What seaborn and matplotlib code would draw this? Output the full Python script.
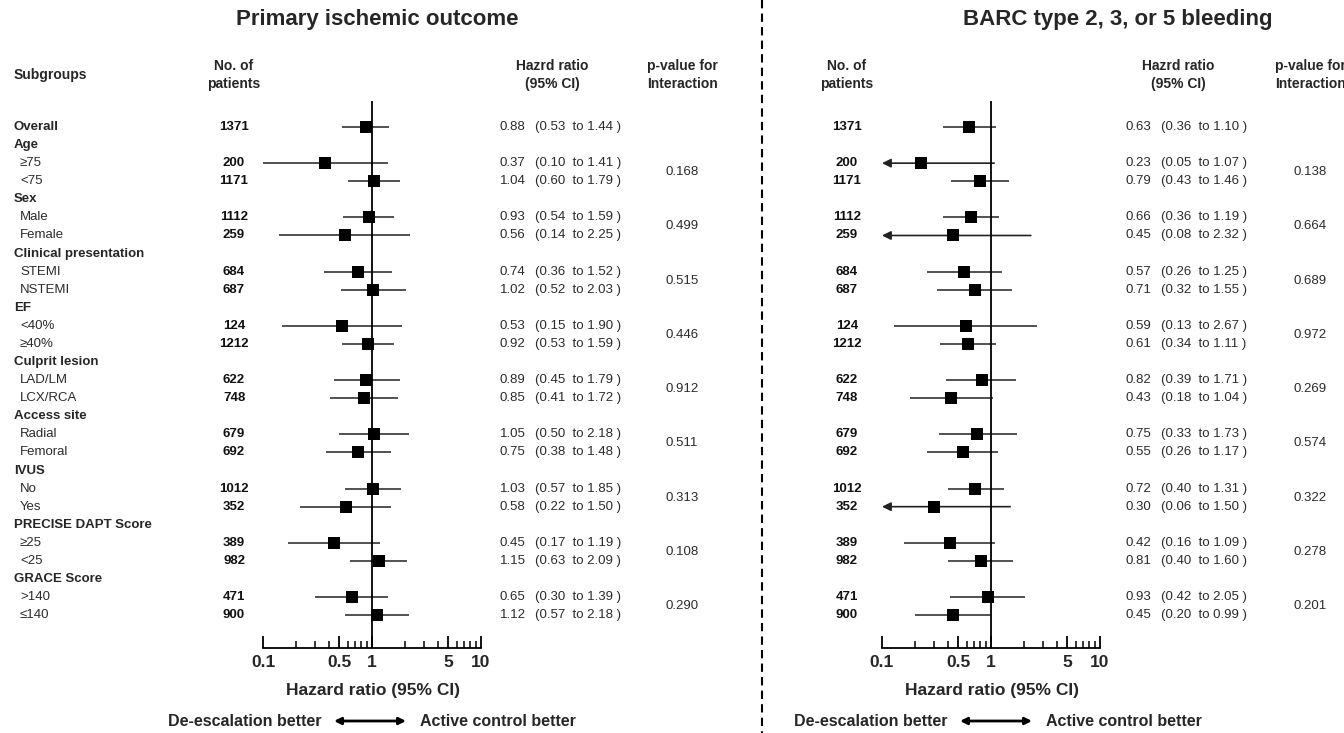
import matplotlib
matplotlib.use("Agg")
import matplotlib.pyplot as plt
import seaborn as sns
import pandas as pd
from matplotlib.ticker import NullFormatter

# -----------------------------
# Data
# -----------------------------
groups = ["Age", "Sex", "Clinical presentation", "EF", "Culprit lesion",
          "Access site", "IVUS", "PRECISE DAPT Score", "GRACE Score"]
levels = [["≥75", "<75"], ["Male", "Female"], ["STEMI", "NSTEMI"],
          ["<40%", "≥40%"], ["LAD/LM", "LCX/RCA"], ["Radial", "Femoral"],
          ["No", "Yes"], ["≥25", "<25"], [">140", "≤140"]]

# Overall first, then two levels per group
n_patients = [1371, 200, 1171, 1112, 259, 684, 687, 124, 1212, 622, 748,
              679, 692, 1012, 352, 389, 982, 471, 900]

isch_hr = [0.88, 0.37, 1.04, 0.93, 0.56, 0.74, 1.02, 0.53, 0.92, 0.89, 0.85,
           1.05, 0.75, 1.03, 0.58, 0.45, 1.15, 0.65, 1.12]
isch_lo = [0.53, 0.10, 0.60, 0.54, 0.14, 0.36, 0.52, 0.15, 0.53, 0.45, 0.41,
           0.50, 0.38, 0.57, 0.22, 0.17, 0.63, 0.30, 0.57]
isch_hi = [1.44, 1.41, 1.79, 1.59, 2.25, 1.52, 2.03, 1.90, 1.59, 1.79, 1.72,
           2.18, 1.48, 1.85, 1.50, 1.19, 2.09, 1.39, 2.18]
isch_p = [0.168, 0.499, 0.515, 0.446, 0.912, 0.511, 0.313, 0.108, 0.290]

bleed_hr = [0.63, 0.23, 0.79, 0.66, 0.45, 0.57, 0.71, 0.59, 0.61, 0.82, 0.43,
            0.75, 0.55, 0.72, 0.30, 0.42, 0.81, 0.93, 0.45]
bleed_lo = [0.36, 0.05, 0.43, 0.36, 0.08, 0.26, 0.32, 0.13, 0.34, 0.39, 0.18,
            0.33, 0.26, 0.40, 0.06, 0.16, 0.40, 0.42, 0.20]
bleed_hi = [1.10, 1.07, 1.46, 1.19, 2.32, 1.25, 1.55, 2.67, 1.11, 1.71, 1.04,
            1.73, 1.17, 1.31, 1.50, 1.09, 1.60, 2.05, 0.99]
bleed_p = [0.138, 0.664, 0.689, 0.972, 0.269, 0.574, 0.322, 0.278, 0.201]

# -----------------------------
# Layout helpers (pixel space of a 1344x733 figure)
# -----------------------------
W, H = 1344, 733
ROW0, ROWH = 127, 18.08
AX_TOP, AX_BOT = 101, 648

# row index of every data row (Overall = 0, group headers in between)
data_rows = [0] + [r for g in range(len(groups)) for r in (2 + 3 * g, 3 + 3 * g)]


def row_y(i):
    return ROW0 + i * ROWH


sns.set_style("white")
plt.rcParams['font.family'] = ['Liberation Sans', 'DejaVu Sans']

fig = plt.figure(figsize=(W / 100, H / 100), dpi=100)
bg = fig.add_axes([0, 0, 1, 1])
bg.set_xlim(0, W)
bg.set_ylim(H, 0)
bg.axis('off')

TXT = "#2b2b2b"
FS = 9.5
HFS = 10


def forest(x01, hr, lo, hi):
    # axes mapping 0.1 -> x01, 10 -> x01 + 218 px
    ax = fig.add_axes([x01 / W, 1 - AX_BOT / H, 218 / W, (AX_BOT - AX_TOP) / H])
    df = pd.DataFrame({"hr": hr, "lo": lo, "hi": hi, "row": data_rows})
    for _, r in df.iterrows():
        if r["lo"] < 0.1:
            ax.annotate("", xy=(0.1, r["row"]), xytext=(r["hi"], r["row"]),
                        arrowprops=dict(arrowstyle="-|>", color="#222222", lw=1.2,
                                        mutation_scale=13, shrinkA=0, shrinkB=0))
        else:
            ax.hlines(r["row"], r["lo"], r["hi"], color="#333333", lw=1.2)
    sns.scatterplot(data=df, x="hr", y="row", marker="s", s=75, color="black",
                    edgecolor="none", ax=ax, zorder=5)
    ax.axvline(1, color="black", lw=1.3, zorder=4)
    ax.set_xscale("log")
    ax.set_xlim(0.1, 10)
    ax.set_ylim((AX_BOT - ROW0) / ROWH, (AX_TOP - ROW0) / ROWH)
    ax.set_xticks([0.1, 0.5, 1, 5, 10], labels=["0.1", "0.5", "1", "5", "10"])
    ax.set_xticks([0.2, 0.3, 0.4, 0.6, 0.7, 0.8, 0.9, 2, 3, 4, 6, 7, 8, 9], minor=True)
    ax.xaxis.set_minor_formatter(NullFormatter())
    ax.tick_params(axis="x", which="major", bottom=True, direction="in", length=9,
                   width=1.3, labelsize=12.5, pad=5, color="black")
    ax.tick_params(axis="x", which="minor", bottom=True, direction="in", length=5,
                   width=1.1, color="black")
    for lab in ax.get_xticklabels():
        lab.set_fontweight("bold")
    ax.set_yticks([])
    ax.set_xlabel("")
    ax.set_ylabel("")
    for s in ["top", "left", "right"]:
        ax.spines[s].set_visible(False)
    ax.spines["bottom"].set_linewidth(1.3)
    ax.spines["bottom"].set_color("black")
    ax.patch.set_alpha(0)
    return ax


def panel(title, title_x, ax_x, n_x, hr_x, p_x, hr, lo, hi, pv, arrow_x):
    bg.text(title_x, 20, title, fontsize=16, fontweight="bold", ha="center", va="center")
    bg.text(n_x, 75, "No. of\npatients", fontsize=HFS, fontweight="bold", ha="center",
            va="center", linespacing=1.3)
    bg.text(hr_x + 52, 75, "Hazrd ratio\n(95% CI)", fontsize=HFS, fontweight="bold",
            ha="center", va="center", linespacing=1.3)
    bg.text(p_x, 75, "p-value for\nInteraction", fontsize=HFS, fontweight="bold",
            ha="center", va="center", linespacing=1.3)
    for k, r in enumerate(data_rows):
        y = row_y(r)
        bg.text(n_x, y, str(n_patients[k]), fontsize=FS, fontweight="bold",
                ha="center", va="center", color="#111111")
        bg.text(hr_x, y, f"{hr[k]:.2f}", fontsize=FS, ha="left", va="center", color=TXT)
        bg.text(hr_x + 35, y, f"({lo[k]:.2f}  to {hi[k]:.2f} )", fontsize=FS,
                ha="left", va="center", color=TXT)
    for g, p in enumerate(pv):
        y = (row_y(2 + 3 * g) + row_y(3 + 3 * g)) / 2
        bg.text(p_x, y, f"{p:.3f}", fontsize=FS, ha="center", va="center", color=TXT)
    forest(ax_x, hr, lo, hi)
    bg.text(ax_x + 110, 691, "Hazard ratio (95% CI)", fontsize=12.5, fontweight="bold",
            ha="center", va="center")
    bg.text(arrow_x - 12, 721, "De-escalation better", fontsize=11.5, fontweight="bold",
            ha="right", va="center")
    bg.annotate("", xy=(arrow_x + 72, 721), xytext=(arrow_x, 721),
                arrowprops=dict(arrowstyle="<|-|>", color="black", lw=2,
                                mutation_scale=10, shrinkA=0, shrinkB=0))
    bg.text(arrow_x + 86, 721, "Active control better", fontsize=11.5,
            fontweight="bold", ha="left", va="center")


# subgroup column (left panel only)
bg.text(14, 75, "Subgroups", fontsize=HFS, fontweight="bold", ha="left", va="center")
bg.text(14, row_y(0), "Overall", fontsize=FS, fontweight="bold", ha="left", va="center")
for g, name in enumerate(groups):
    bg.text(14, row_y(1 + 3 * g), name, fontsize=FS, fontweight="bold",
            ha="left", va="center")
    for j, lev in enumerate(levels[g]):
        bg.text(20, row_y(2 + 3 * g + j), lev, fontsize=FS, ha="left",
                va="center", color=TXT)

panel("Primary ischemic outcome", 377, 263, 234, 500, 682,
      isch_hr, isch_lo, isch_hi, isch_p, 334)
panel("BARC type 2, 3, or 5 bleeding", 1118, 882, 847, 1126, 1310,
      bleed_hr, bleed_lo, bleed_hi, bleed_p, 960)

# dashed separator between the two panels
bg.plot([762, 762], [0, H], color="black", lw=1.5, dashes=(4, 2.5))

fig.savefig("out.png", dpi=100)
